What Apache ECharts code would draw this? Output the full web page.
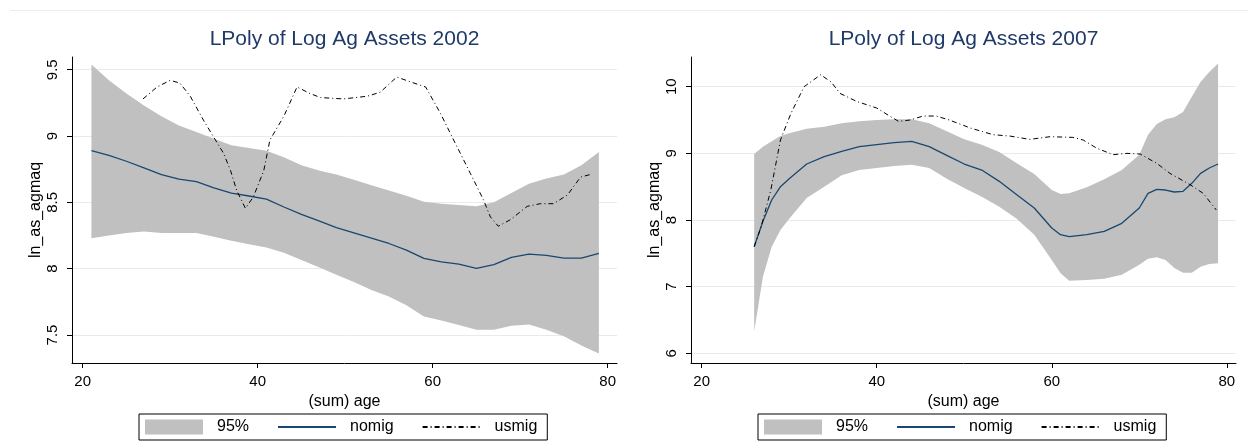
<!DOCTYPE html>
<html>
<head>
<meta charset="utf-8">
<script src="https://cdn.jsdelivr.net/npm/echarts@6/dist/echarts.min.js"></script>
<style>
  html, body { margin: 0; padding: 0; background: #fff; }
  #main { width: 1248px; height: 443px; }
</style>
</head>
<body>
<div id="main"></div>
<script>
// 2002 panel
var ages2002 = [21,23,25,27,29,31,33,35,37,39,41,43,45,47,49,51,53,55,57,59,61,63,65,67,69,71,73,75,77,79];
var upper2002 = [9.54,9.42,9.32,9.23,9.15,9.08,9.03,8.98,8.93,8.91,8.89,8.84,8.78,8.74,8.71,8.67,8.63,8.59,8.55,8.505,8.49,8.48,8.47,8.50,8.57,8.64,8.68,8.71,8.78,8.88];
var lower2002 = [8.23,8.25,8.27,8.28,8.27,8.27,8.27,8.24,8.21,8.185,8.16,8.12,8.065,8.01,7.955,7.90,7.84,7.79,7.725,7.64,7.61,7.575,7.54,7.54,7.57,7.58,7.54,7.49,7.42,7.36];
var nomig2002 = [8.89,8.855,8.81,8.76,8.71,8.675,8.656,8.61,8.57,8.548,8.525,8.465,8.41,8.36,8.31,8.27,8.23,8.19,8.14,8.078,8.052,8.035,8.002,8.03,8.085,8.11,8.10,8.08,8.08,8.115];
var usAges2002 = [26.9,28.5,30.0,31.1,32.3,33.8,34.9,36.1,36.9,37.6,38.6,39.5,40.7,41.4,43.0,44.5,46.0,47.2,49.8,52.5,54.0,55.9,57.4,59.2,60.9,62.4,64.3,65.8,66.6,67.5,68.9,70.8,72.3,73.8,75.4,76.9,78.0];
var usmig2002 = [9.28,9.37,9.42,9.40,9.30,9.12,9.00,8.87,8.74,8.59,8.455,8.54,8.74,8.97,9.15,9.37,9.32,9.29,9.28,9.30,9.33,9.445,9.41,9.37,9.17,8.97,8.72,8.52,8.39,8.32,8.37,8.47,8.49,8.49,8.555,8.69,8.71];

// 2007 panel
var ages2007 = [26,27,28,29,30,32,34,36,38,40,42,44,46,48,50,52,54,56,58,60,61,62,64,66,68,70,71,72,73,74,75,76,77,78,79];
var upper2007 = [8.99,9.10,9.18,9.26,9.30,9.37,9.40,9.45,9.48,9.50,9.51,9.51,9.45,9.33,9.21,9.13,9.02,8.85,8.69,8.45,8.39,8.40,8.49,8.61,8.75,8.98,9.28,9.44,9.51,9.54,9.62,9.85,10.07,10.22,10.35];
var lower2007 = [6.33,7.15,7.60,7.85,8.02,8.33,8.50,8.67,8.75,8.78,8.81,8.83,8.78,8.62,8.48,8.35,8.20,8.02,7.78,7.40,7.20,7.09,7.10,7.12,7.18,7.33,7.42,7.44,7.40,7.28,7.21,7.21,7.30,7.34,7.35];
var nomig2007 = [7.60,7.98,8.30,8.50,8.62,8.84,8.95,9.03,9.10,9.13,9.16,9.18,9.10,8.97,8.84,8.75,8.58,8.38,8.18,7.88,7.78,7.75,7.78,7.83,7.95,8.18,8.40,8.46,8.45,8.42,8.43,8.55,8.70,8.78,8.84];
var usAges2007 = [26,26.8,27.9,29,30.2,31.7,33.6,34.8,35.8,37.7,40,41.6,42.5,43.8,45.3,46.8,48.3,49.9,50.7,53.3,55.2,57.5,59.8,62.4,63.6,65.1,67,68.6,70.1,72,73.5,75.8,77.3,78.8];
var usmig2007 = [7.60,7.90,8.45,9.20,9.60,10.0,10.18,10.07,9.90,9.78,9.68,9.55,9.48,9.50,9.56,9.56,9.50,9.42,9.38,9.28,9.26,9.21,9.25,9.24,9.20,9.08,8.98,9.00,8.99,8.85,8.70,8.53,8.40,8.15];

var xTicks = [20, 40, 60, 80];
var yTicks2002 = [7.5, 8, 8.5, 9, 9.5];
var yTicks2007 = [6, 7, 8, 9, 10];

var FONT = 'Liberation Sans, Arial, sans-serif';
var BAND = '#c0c0c0', NAVY = '#1a476f';

function pairs(xs, ys) {
  return xs.map(function (x, i) { return [x, ys[i]]; });
}

function xAxisFor(idx, max) {
  return {
    type: 'value', gridIndex: idx, min: 18.78, max: max,
    name: '(sum) age', nameLocation: 'middle', nameGap: 26,
    nameTextStyle: { fontFamily: FONT, fontSize: 16, color: '#000' },
    axisLine: { show: true, onZero: false, lineStyle: { color: '#000', width: 1 } },
    axisTick: { show: true, length: 5, customValues: xTicks, lineStyle: { color: '#000' } },
    axisLabel: { customValues: xTicks, margin: 11, fontFamily: FONT, fontSize: 15, color: '#000' },
    splitLine: { show: false }
  };
}
function yAxisFor(idx, min, max, ticks) {
  return {
    type: 'value', gridIndex: idx, min: min, max: max,
    name: 'ln_as_agmaq', nameLocation: 'middle', nameGap: 28, nameRotate: 90,
    nameTextStyle: { fontFamily: FONT, fontSize: 16, color: '#000' },
    axisLine: { show: true, onZero: false, lineStyle: { color: '#000', width: 1 } },
    axisTick: { show: true, length: 5, customValues: ticks, lineStyle: { color: '#000' } },
    axisLabel: { customValues: ticks, rotate: 90, margin: 12, fontFamily: FONT, fontSize: 15, color: '#000' },
    splitLine: { show: true, lineStyle: { color: '#e4ecee', width: 1 } }
  };
}
// confidence band: one polygon, upper edge then lower edge back
function bandSeries(idx, ages, lo, hi) {
  return {
    name: '95%', type: 'custom', xAxisIndex: idx, yAxisIndex: idx,
    coordinateSystem: 'cartesian2d', silent: true, z: 1,
    itemStyle: { color: BAND },
    encode: { x: 0, y: [1, 2] },
    data: ages.map(function (a, i) { return [a, lo[i], hi[i]]; }),
    renderItem: function (params, api) {
      if (params.dataIndex !== 0) return null;
      var pts = [];
      for (var i = 0; i < ages.length; i++) pts.push(api.coord([ages[i], hi[i]]));
      for (var j = ages.length - 1; j >= 0; j--) pts.push(api.coord([ages[j], lo[j]]));
      return { type: 'polygon', shape: { points: pts }, style: { fill: BAND } };
    }
  };
}
function panel(idx, ages, lo, hi, nomig, usAges, usmig) {
  return [
    bandSeries(idx, ages, lo, hi),
    { name: 'nomig', type: 'line', xAxisIndex: idx, yAxisIndex: idx,
      data: pairs(ages, nomig), symbol: 'none', color: NAVY,
      lineStyle: { color: NAVY, width: 1.3 }, z: 3 },
    { name: 'usmig', type: 'line', xAxisIndex: idx, yAxisIndex: idx,
      data: pairs(usAges, usmig), symbol: 'none', color: '#000',
      lineStyle: { color: '#000', width: 1, type: [5, 3, 1, 3] }, z: 4 }
  ];
}
function legendAt(left) {
  return {
    left: left, top: 414, orient: 'horizontal',
    itemWidth: 58, itemHeight: 15, itemGap: 28,
    padding: [5, 10, 5, 6], borderColor: '#000', borderWidth: 1, borderRadius: 0,
    backgroundColor: '#fff',
    textStyle: { fontFamily: FONT, fontSize: 16, color: '#000', padding: [0, 0, 0, 9] },
    data: [
      { name: '95%', icon: 'rect' },
      { name: 'nomig', itemStyle: { opacity: 0 } },
      { name: 'usmig', itemStyle: { opacity: 0 } }
    ]
  };
}
function titleAt(left, text) {
  return {
    text: text, left: left, top: 29, textAlign: 'center', padding: 0,
    textStyle: { fontFamily: FONT, fontSize: 21, fontWeight: 'normal', color: '#1f3a68' }
  };
}

var myChart = echarts.init(document.getElementById('main'));
var option = {
  animation: false,
  backgroundColor: '#fff',
  title: [titleAt(344.5, 'LPoly of Log Ag Assets 2002'), titleAt(963.5, 'LPoly of Log Ag Assets 2007')],
  legend: [legendAt(139), legendAt(758)],
  grid: [
    { left: 72, top: 57, width: 545, height: 306 },
    { left: 691, top: 57, width: 545, height: 306 }
  ],
  xAxis: [xAxisFor(0, 81.07), xAxisFor(1, 81.05)],
  yAxis: [yAxisFor(0, 7.289, 9.596, yTicks2002), yAxisFor(1, 5.854, 10.446, yTicks2007)],
  graphic: [{
    type: 'line', shape: { x1: 10, y1: 10.5, x2: 1248, y2: 10.5 },
    style: { stroke: '#e6eeee', lineWidth: 1 }, silent: true
  }],
  series: [].concat(
    panel(0, ages2002, lower2002, upper2002, nomig2002, usAges2002, usmig2002),
    panel(1, ages2007, lower2007, upper2007, nomig2007, usAges2007, usmig2007)
  )
};
myChart.setOption(option);
</script>
</body>
</html>
